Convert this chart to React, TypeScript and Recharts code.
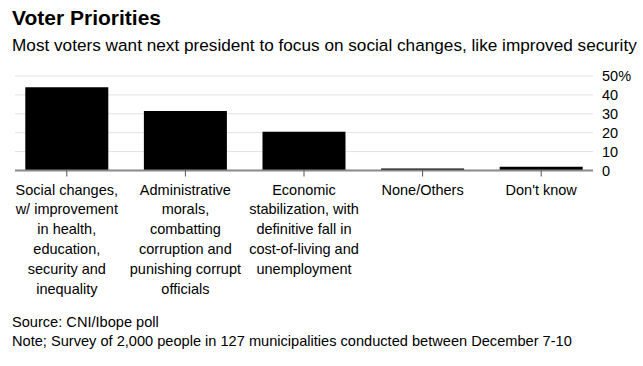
import React from 'react';
import { BarChart, Bar, XAxis, YAxis, CartesianGrid } from 'recharts';

const categories = [
    'Social changes,\nw/ improvement\nin health,\neducation,\nsecurity and\ninequality',
    'Administrative\nmorals,\ncombatting\ncorruption and\npunishing corrupt\nofficials',
    'Economic\nstabilization, with\ndefinitive fall in\ncost-of-living and\nunemployment',
    'None/Others',
    "Don't know",
];
const shares = [44, 31.5, 20.5, 1, 2];
const yTicks = [0, 10, 20, 30, 40, 50];

const FONT = '"Liberation Sans", Arial, sans-serif';

const data = categories.map((name, i) => ({ name, value: shares[i] }));

function CategoryTick({ x, y, payload }: { x?: number; y?: number; payload?: { value: string } }) {
    const lines = String(payload?.value ?? '').split('\n');
    return (
        <text x={x} y={y} textAnchor="middle" fontSize={14.5} fill="#000" fontFamily={FONT}>
            {lines.map((line, i) => (
                <tspan key={i} x={x} dy={i === 0 ? 18 : 19.9}>
                    {line}
                </tspan>
            ))}
        </text>
    );
}

export default function App() {
    return (
        <div
            style={{
                position: 'absolute',
                left: 0,
                top: 0,
                width: 643,
                height: 366,
                background: '#fff',
                fontFamily: FONT,
                color: '#000',
            }}
        >
            <div style={{ position: 'absolute', left: 12, top: 6, fontSize: 21, fontWeight: 700 }}>
                Voter Priorities
            </div>
            <div style={{ position: 'absolute', left: 12, top: 35, fontSize: 17.2 }}>
                Most voters want next president to focus on social changes, like improved security
            </div>
            <div style={{ position: 'absolute', left: 0, top: 0 }}>
                <BarChart
                    width={643}
                    height={310}
                    data={data}
                    margin={{ top: 76, right: 0, left: 15, bottom: 0 }}
                    barCategoryGap="15%"
                >
                    <CartesianGrid vertical={false} stroke="#e2e2e2" strokeWidth={1} />
                    <XAxis
                        dataKey="name"
                        interval={0}
                        padding={{ left: -7.5, right: -7.5 }}
                        axisLine={{ stroke: '#888', strokeWidth: 2 }}
                        tickLine={{ stroke: '#555' }}
                        tickSize={6}
                        tickMargin={0}
                        tick={<CategoryTick />}
                        height={139.5}
                    />
                    <YAxis
                        orientation="right"
                        domain={[0, 50]}
                        ticks={yTicks}
                        interval={0}
                        axisLine={false}
                        tickLine={false}
                        tickSize={6}
                        tickMargin={3}
                        width={50}
                        tick={{ fontSize: 14.5, fill: '#000', fontFamily: FONT, textAnchor: 'start' }}
                        tickFormatter={(v: number) => (v === 50 ? '50%' : String(v))}
                    />
                    <Bar dataKey="value" fill="#000" isAnimationActive={false} />
                </BarChart>
            </div>
            <div style={{ position: 'absolute', left: 12, top: 314, fontSize: 14.6 }}>Source: CNI/Ibope poll</div>
            <div style={{ position: 'absolute', left: 12, top: 333, fontSize: 14.6 }}>
                Note; Survey of 2,000 people in 127 municipalities conducted between December 7-10
            </div>
        </div>
    );
}
